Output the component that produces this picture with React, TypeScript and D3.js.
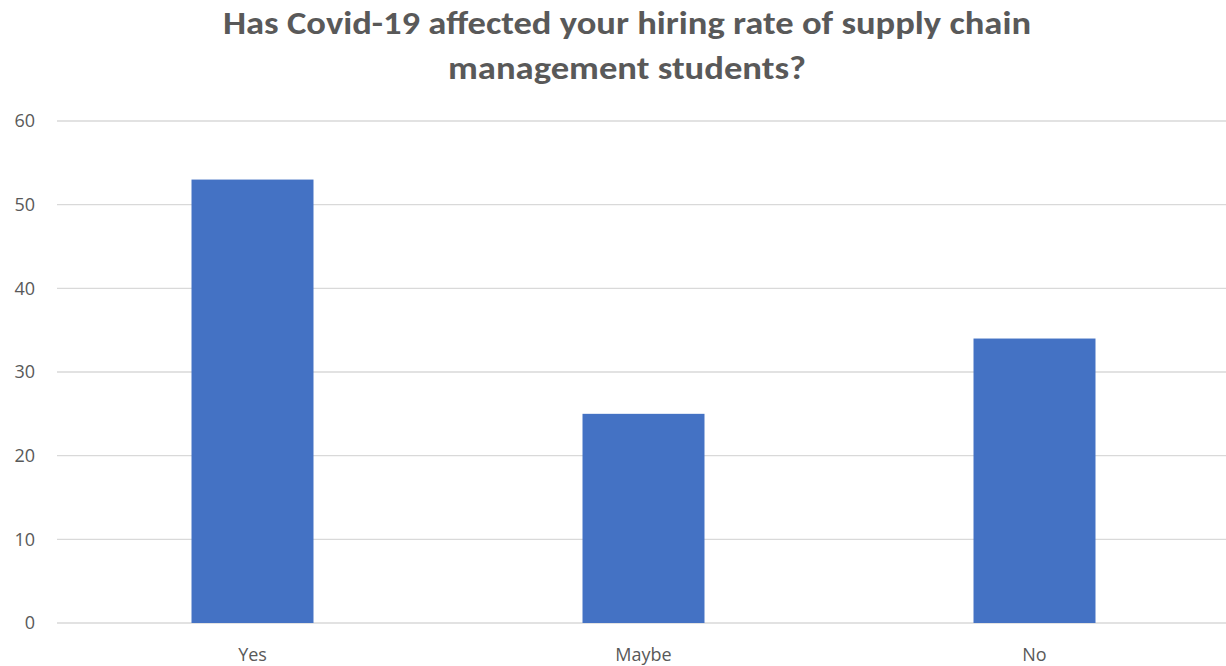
import React from "react";
import * as d3 from "d3";

const categories = ["Yes", "Maybe", "No"];
const values = [53, 25, 34];
const yTicks = [0, 10, 20, 30, 40, 50, 60];
const titleLines = [
  "Has Covid-19 affected your hiring rate of supply chain",
  "management students?",
];

const W = 1226;
const H = 666;

export default function App() {
  const x = d3
    .scaleBand<string>()
    .domain(categories)
    .range([57, 1230])
    .paddingInner(0.688)
    .paddingOuter(0.344);
  const y = d3.scaleLinear().domain([0, 60]).range([623, 121]);

  const titleFont = "Carlito, Calibri, Lato, 'Liberation Sans', sans-serif";
  const axisFont = "'Open Sans', 'Segoe UI', 'DejaVu Sans', sans-serif";

  return (
    <svg
      width={W}
      height={H}
      style={{ position: "absolute", left: 0, top: 0, background: "#fff" }}
    >
      {titleLines.map((t, i) => (
        <text
          key={i}
          x={627}
          y={34 + i * 45}
          textAnchor="middle"
          fontSize={32}
          fontWeight="bold"
          fill="#595959"
          fontFamily={titleFont}
          textLength={i === 0 ? 808 : 358}
          lengthAdjust="spacingAndGlyphs"
        >
          {t}
        </text>
      ))}
      {yTicks.map((t) => (
        <g key={t}>
          <line
            x1={57}
            x2={1230}
            y1={y(t)}
            y2={y(t)}
            stroke="#d9d9d9"
            strokeWidth={1.3}
          />
          <text
            x={35}
            y={y(t)}
            dy="0.35em"
            textAnchor="end"
            fontSize={18}
            fill="#595959"
            fontFamily={axisFont}
          >
            {t}
          </text>
        </g>
      ))}
      {categories.map((c, i) => (
        <rect
          key={c}
          x={x(c)}
          y={y(values[i])}
          width={x.bandwidth()}
          height={y(0) - y(values[i])}
          fill="#4472C4"
        />
      ))}
      {categories.map((c) => (
        <text
          key={c}
          x={(x(c) ?? 0) + x.bandwidth() / 2}
          y={655}
          dy="0.35em"
          textAnchor="middle"
          fontSize={18}
          fill="#595959"
          fontFamily={axisFont}
        >
          {c}
        </text>
      ))}
    </svg>
  );
}
